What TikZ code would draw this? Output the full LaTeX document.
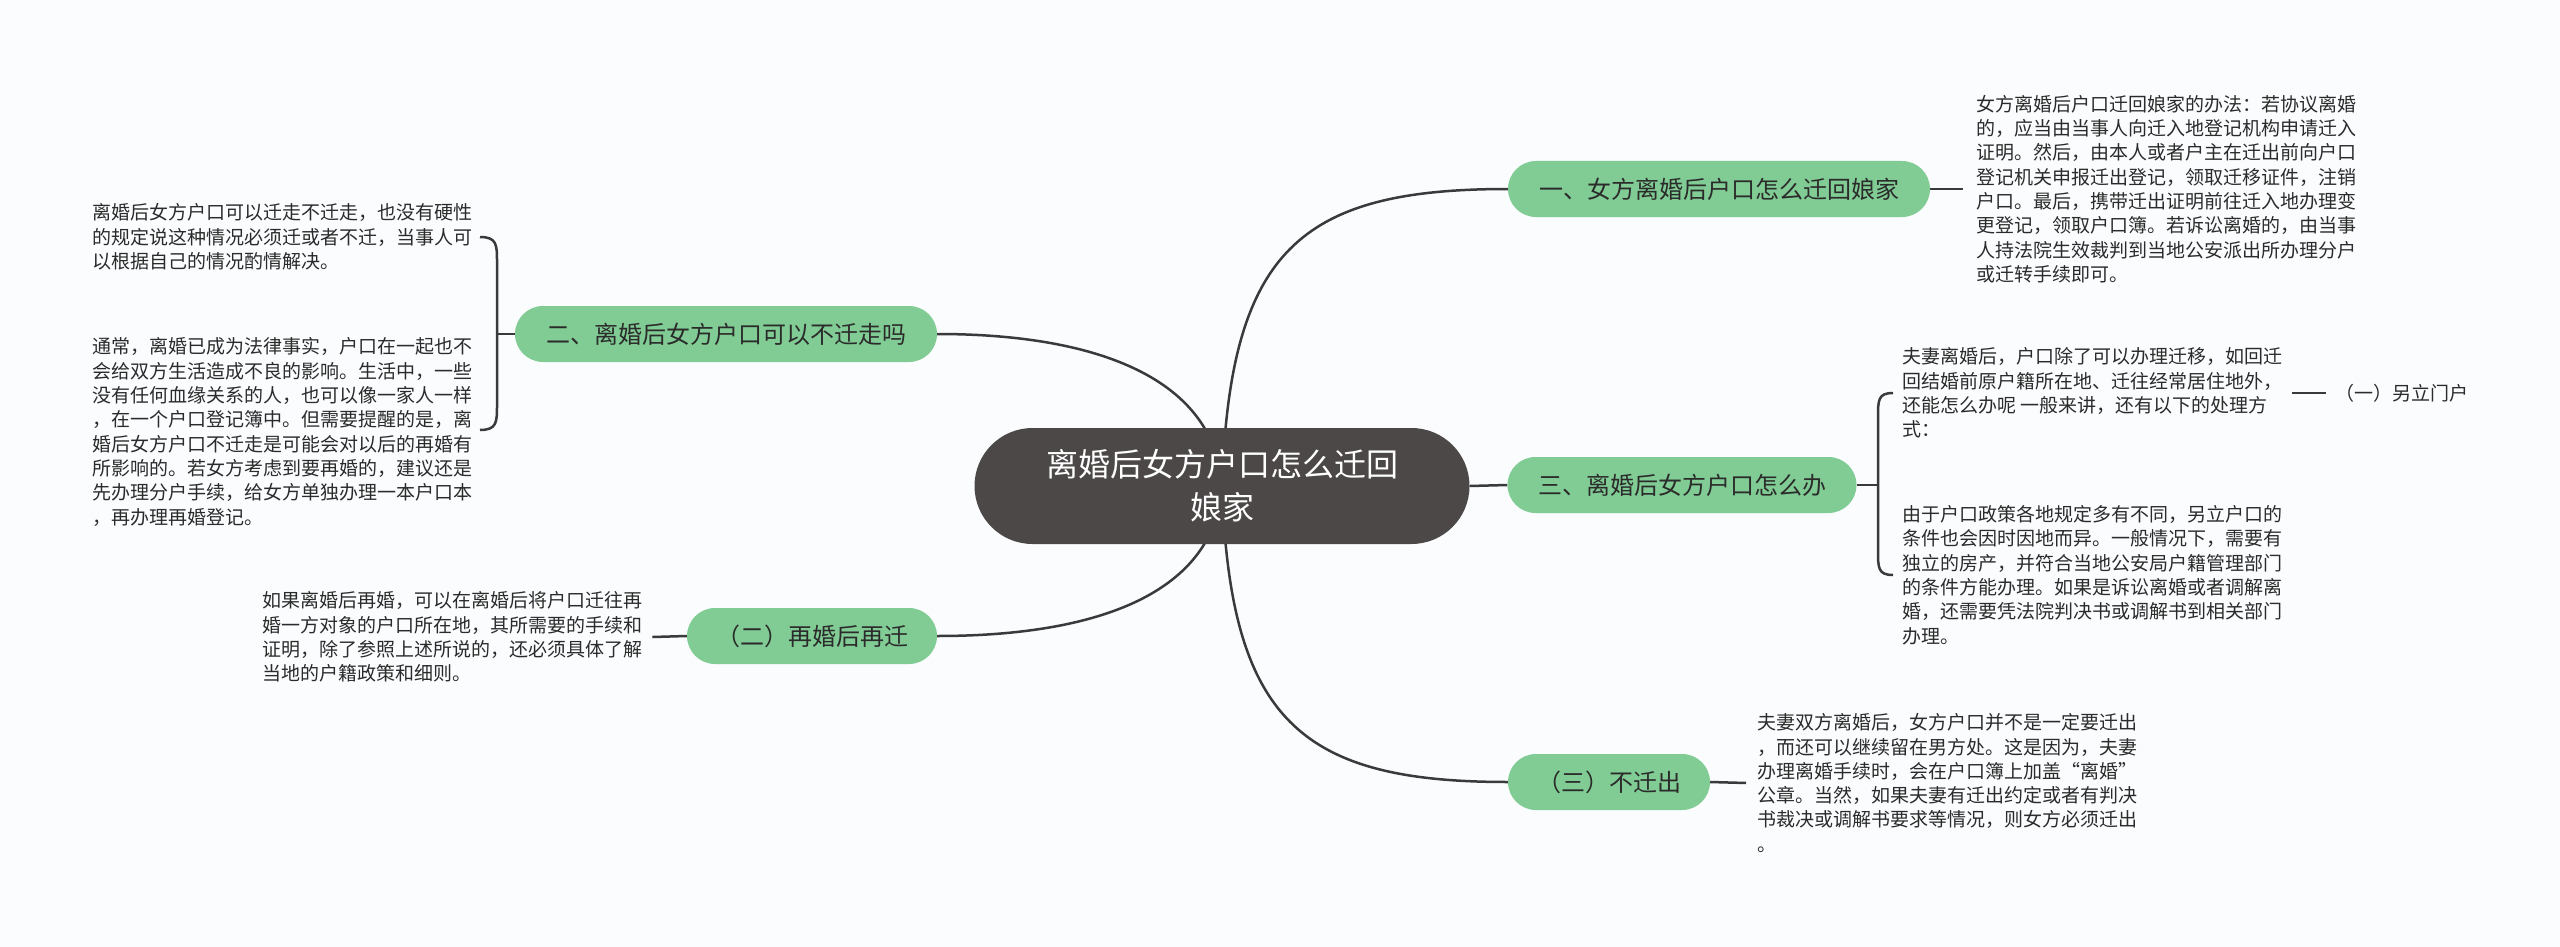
\documentclass[tikz,border=0pt]{standalone}
\usepackage{fontspec}
\newfontfamily\cjk{Noto Sans CJK SC}
\usetikzlibrary{backgrounds}
\definecolor{bgc}{HTML}{FAFCFD}
\definecolor{rootc}{HTML}{4D4848}
\definecolor{greenc}{HTML}{80CC94}
\definecolor{linec}{HTML}{3A3A3A}
\definecolor{txtc}{HTML}{2B2B2B}
\begin{document}
\begin{tikzpicture}[x=1pt,y=-1pt,
 rootnode/.style={fill=rootc, text=white, rounded corners=58pt, minimum width=495pt, minimum height=116pt, align=center, font=\cjk\fontsize{32}{43}\selectfont, inner sep=0pt},
 branch/.style={fill=greenc, text=txtc, rounded corners=28pt, minimum height=56pt, font=\cjk\fontsize{24}{28}\selectfont, inner sep=0pt},
 leaf/.style={anchor=west, align=left, text=txtc, font=\cjk\fontsize{19}{24.3}\selectfont, inner sep=0pt},
 conn/.style={draw=linec, line width=2.5pt}
]
\useasboundingbox (0,0) rectangle (2560,947);

\node[rootnode] (root) at (1222,486) {离婚后女方户口怎么迁回\\娘家};

\node[branch, minimum width=422pt] (b1) at (1719,189) {一、女方离婚后户口怎么迁回娘家};
\node[branch, minimum width=422pt] (b2) at (726,334) {二、离婚后女方户口可以不迁走吗};
\node[branch, minimum width=250pt] (b21) at (812,636) {（二）再婚后再迁};
\node[branch, minimum width=349pt] (b3) at (1682,485) {三、离婚后女方户口怎么办};
\node[branch, minimum width=202pt] (b31) at (1609,782) {（三）不迁出};

\node[leaf] (l1) at (1976,189) {女方离婚后户口迁回娘家的办法：若协议离婚\\的，应当由当事人向迁入地登记机构申请迁入\\证明。然后，由本人或者户主在迁出前向户口\\登记机关申报迁出登记，领取迁移证件，注销\\户口。最后，携带迁出证明前往迁入地办理变\\更登记，领取户口簿。若诉讼离婚的，由当事\\人持法院生效裁判到当地公安派出所办理分户\\或迁转手续即可。};

\node[leaf] (l2a) at (92,237) {离婚后女方户口可以迁走不迁走，也没有硬性\\的规定说这种情况必须迁或者不迁，当事人可\\以根据自己的情况酌情解决。};
\node[leaf] (l2b) at (92,432) {通常，离婚已成为法律事实，户口在一起也不\\会给双方生活造成不良的影响。生活中，一些\\没有任何血缘关系的人，也可以像一家人一样\\，在一个户口登记簿中。但需要提醒的是，离\\婚后女方户口不迁走是可能会对以后的再婚有\\所影响的。若女方考虑到要再婚的，建议还是\\先办理分户手续，给女方单独办理一本户口本\\，再办理再婚登记。};

\node[leaf] (l21) at (262,637) {如果离婚后再婚，可以在离婚后将户口迁往再\\婚一方对象的户口所在地，其所需要的手续和\\证明，除了参照上述所说的，还必须具体了解\\当地的户籍政策和细则。};

\node[leaf] (l3a) at (1902,393) {夫妻离婚后，户口除了可以办理迁移，如回迁\\回结婚前原户籍所在地、迁往经常居住地外，\\还能怎么办呢 一般来讲，还有以下的处理方\\式：};
\node[leaf] (l3b) at (1902,575) {由于户口政策各地规定多有不同，另立户口的\\条件也会因时因地而异。一般情况下，需要有\\独立的房产，并符合当地公安局户籍管理部门\\的条件方能办理。如果是诉讼离婚或者调解离\\婚，还需要凭法院判决书或调解书到相关部门\\办理。};
\node[leaf] (l3a1) at (2335,393) {（一）另立门户};

\node[leaf] (l31) at (1757,783) {夫妻双方离婚后，女方户口并不是一定要迁出\\，而还可以继续留在男方处。这是因为，夫妻\\办理离婚手续时，会在户口簿上加盖“离婚”\\公章。当然，如果夫妻有迁出约定或者有判决\\书裁决或调解书要求等情况，则女方必须迁出\\。};

\coordinate (k2) at (497,334);
\coordinate (k2t) at (480,237);
\coordinate (k2b) at (480,430);
\coordinate (k3) at (1878,485);
\coordinate (k3t) at (1893,393);
\coordinate (k3b) at (1893,575);

\begin{scope}[on background layer]
\fill[bgc] (0,0) rectangle (2560,947);
\draw[conn] (root.center) .. controls (1230,250) and (1300,189) .. (b1.west);
\draw[conn] (root.center) .. controls (1215,380) and (1100,334) .. (b2.east);
\draw[conn] (root.center) .. controls (1215,592) and (1100,636) .. (b21.east);
\draw[conn] (root.east) -- (b3.west);
\draw[conn] (root.center) .. controls (1230,720) and (1300,782) .. (b31.west);

\draw[conn] (b1.east) -- ([xshift=-13pt]l1.west);
\draw[conn] (b2.west) -- (k2);
\draw[conn] (k2t) .. controls (497,237) and (497,245) .. (497,262) -- (497,405) .. controls (497,422) and (497,430) .. (k2b);
\draw[conn] (b21.west) -- ([xshift=10pt]l21.east);
\draw[conn] (b3.east) -- (k3);
\draw[conn] (k3t) .. controls (1878,393) and (1878,400) .. (1878,418) -- (1878,550) .. controls (1878,568) and (1878,575) .. (k3b);
\draw[conn] ([xshift=10pt]l3a.east) -- ([xshift=-9pt]l3a1.west);
\draw[conn] (b31.east) -- ([xshift=-11pt]l31.west);
\end{scope}
\end{tikzpicture}
\end{document}
